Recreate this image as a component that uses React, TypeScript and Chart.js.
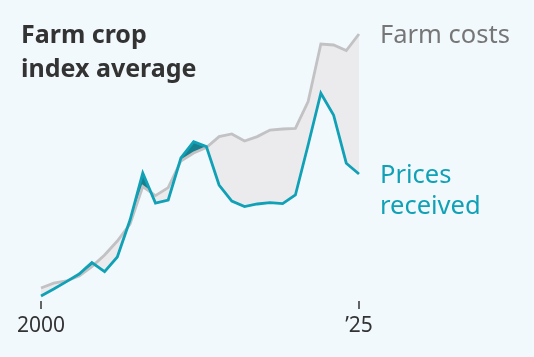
import React, { useEffect, useRef } from "react";
import { Chart, registerables } from "chart.js";

Chart.register(...registerables);

const years = [
  2000, 2001, 2002, 2003, 2004, 2005, 2006, 2007, 2008, 2009, 2010, 2011, 2012,
  2013, 2014, 2015, 2016, 2017, 2018, 2019, 2020, 2021, 2022, 2023, 2024, 2025,
];
const pricesReceived = [
  52, 55.5, 59.2, 63, 68.7, 64.2, 71.5, 90, 113.5, 98.5, 100, 121, 129.2, 126.7,
  107.5, 99.5, 96.7, 98, 98.7, 98.2, 102.5, 127.5, 153.4, 142.5, 118.4, 113,
];
const farmCosts = [
  56, 58.4, 59.5, 62, 66.7, 72.5, 79.5, 88, 106.7, 102.2, 106.2, 119.5, 123.5,
  126.2, 131.7, 133, 129.5, 131.7, 135, 135.5, 135.8, 149.2, 178, 177.5, 174.7,
  183,
];
const tickYears = [2000, 2025];
const tickLabels = ["2000", "\u201925"];
const titleLines = ["Farm crop", "index average"];
const costsLabel = ["Farm costs"];
const pricesLabel = ["Prices", "received"];

const BG = "#f2f9fc";
const TEAL = "#10a1b7";
const GRAY = "#c2c2c4";
const FONT = "'Noto Sans', 'Open Sans', sans-serif";

export default function App() {
  const ref = useRef<HTMLCanvasElement>(null);
  useEffect(() => {
    if (!ref.current) return;
    const annot = {
      id: "annot",
      afterDraw(chart: any) {
        const ctx = chart.ctx;
        const x = chart.scales.x;
        const area = chart.chartArea;
        ctx.save();
        ctx.textBaseline = "alphabetic";
        ctx.fillStyle = "#333333";
        ctx.font = `bold 25px ${FONT}`;
        ctx.textAlign = "left";
        titleLines.forEach((t, i) => ctx.fillText(t, 21, 43 + i * 34));
        ctx.font = `25.5px ${FONT}`;
        ctx.fillStyle = "#767676";
        costsLabel.forEach((t, i) => ctx.fillText(t, 380, 43 + i * 31));
        ctx.fillStyle = TEAL;
        pricesLabel.forEach((t, i) => ctx.fillText(t, 380, 183 + i * 31));
        // ticks
        ctx.strokeStyle = "#333333";
        ctx.lineWidth = 1.5;
        ctx.fillStyle = "#333333";
        ctx.font = `21px ${FONT}`;
        ctx.textAlign = "center";
        tickYears.forEach((yr, i) => {
          const px = Math.round(x.getPixelForValue(yr));
          ctx.beginPath();
          ctx.moveTo(px, area.bottom + 1);
          ctx.lineTo(px, area.bottom + 9);
          ctx.stroke();
          ctx.fillText(tickLabels[i], px, 332);
        });
        ctx.restore();
      },
    };
    const bg = {
      id: "bg",
      beforeDraw(chart: any) {
        const ctx = chart.ctx;
        ctx.save();
        ctx.fillStyle = BG;
        ctx.fillRect(0, 0, chart.width, chart.height);
        ctx.restore();
      },
    };
    const chart = new Chart(ref.current, {
      type: "line",
      data: {
        datasets: [
          {
            label: "Prices received",
            data: years.map((y, i) => ({ x: y, y: pricesReceived[i] })),
            borderColor: TEAL,
            borderWidth: 2.8,
            pointRadius: 0,
            tension: 0,
            clip: false as any,
            fill: { target: 1, above: "#177f8e", below: "#ebebee" },
          },
          {
            label: "Farm costs",
            data: years.map((y, i) => ({ x: y, y: farmCosts[i] })),
            borderColor: GRAY,
            borderWidth: 2.8,
            pointRadius: 0,
            tension: 0,
            clip: false as any,
            fill: false,
          },
        ],
      },
      options: {
        animation: false,
        responsive: false,
        layout: { padding: { left: 41, right: 175, top: 30, bottom: 57 } },
        scales: {
          x: { type: "linear", min: 2000, max: 2025, display: false },
          y: { type: "linear", min: 50, max: 185, display: false },
        },
        plugins: {
          legend: { display: false },
          tooltip: { enabled: false },
          filler: { drawTime: "beforeDatasetsDraw" } as any,
        },
      },
      plugins: [bg, annot],
    });
    return () => chart.destroy();
  }, []);
  return (
    <div style={{ position: "absolute", left: 0, top: 0, width: 534, height: 357, background: BG }}>
      <canvas ref={ref} width={534} height={357} style={{ display: "block" }} />
    </div>
  );
}
